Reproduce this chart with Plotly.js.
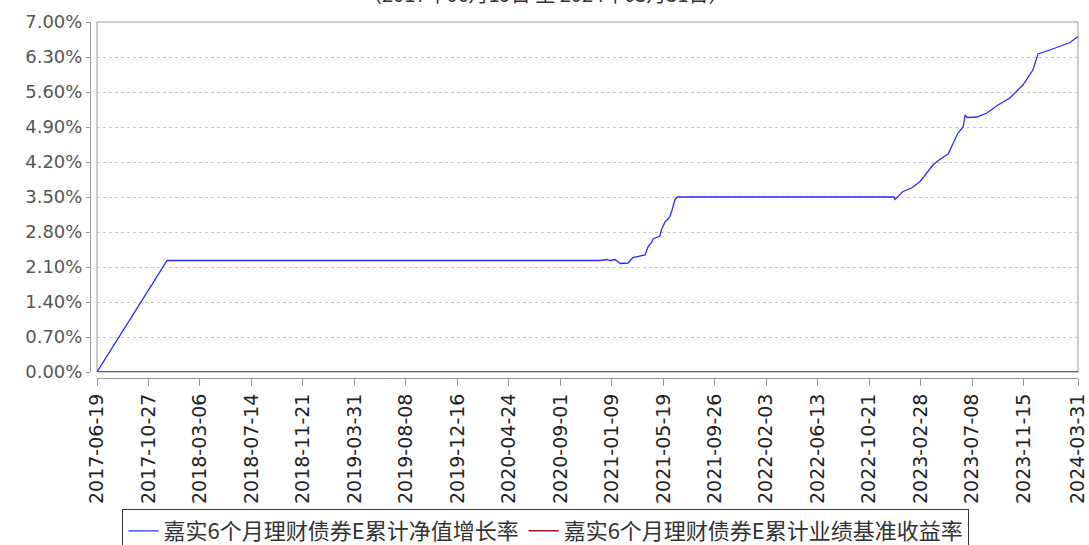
<!DOCTYPE html>
<html>
<head>
<meta charset="utf-8">
<script src="https://cdn.plot.ly/plotly-3.0.1.min.js"></script>
<style>
html,body{margin:0;padding:0;background:#fff;}
#chart{width:1089px;height:545px;}
</style>
</head>
<body>
<div id="chart"></div>
<script>
const titleText = '（2017年06月19日 至 2024年03月31日）';
const seriesNames = ['嘉实6个月理财债券E累计净值增长率', '嘉实6个月理财债券E累计业绩基准收益率'];

const navDates = [
  '2017-06-19','2017-12-13','2020-12-10','2020-12-28','2021-01-04','2021-01-17','2021-01-30','2021-02-19',
  '2021-03-03','2021-04-03','2021-04-10','2021-04-20','2021-04-23','2021-05-10','2021-05-15','2021-05-23',
  '2021-05-28','2021-06-04','2021-06-10','2021-06-17','2021-06-23','2022-12-22','2022-12-25','2023-01-14',
  '2023-02-05','2023-02-26','2023-03-31','2023-04-15','2023-05-08','2023-06-02','2023-06-15','2023-06-20',
  '2023-06-25','2023-07-20','2023-08-14','2023-09-11','2023-10-11','2023-11-13','2023-12-08','2023-12-21',
  '2024-01-20','2024-03-11','2024-03-31'
];
const navValues = [
  0.00, 2.23, 2.23, 2.25, 2.23, 2.25, 2.17, 2.18,
  2.29, 2.34, 2.50, 2.60, 2.66, 2.72, 2.86, 3.00,
  3.04, 3.10, 3.24, 3.44, 3.50, 3.50, 3.45, 3.61,
  3.68, 3.81, 4.14, 4.24, 4.36, 4.78, 4.90, 5.14,
  5.09, 5.10, 5.18, 5.34, 5.48, 5.74, 6.04, 6.36,
  6.44, 6.59, 6.71
];

const benchDates = ['2017-06-19', '2024-03-31'];
const benchValues = [0, 0];

const xTickLabels = [
  '2017-06-19','2017-10-27','2018-03-06','2018-07-14','2018-11-21','2019-03-31','2019-08-08',
  '2019-12-16','2020-04-24','2020-09-01','2021-01-09','2021-05-19','2021-09-26','2022-02-03',
  '2022-06-13','2022-10-21','2023-02-28','2023-07-08','2023-11-15','2024-03-31'
];
const yTickValues = [0, 0.7, 1.4, 2.1, 2.8, 3.5, 4.2, 4.9, 5.6, 6.3, 7.0];

const traces = [
  {
    x: navDates, y: navValues, name: seriesNames[0], type: 'scatter', mode: 'lines',
    line: {color: '#2a2aff', width: 1.3}
  },
  {
    x: benchDates, y: benchValues, name: seriesNames[1], type: 'scatter', mode: 'lines',
    line: {color: '#a31515', width: 1.5}
  }
];

const layout = {
  width: 1089, height: 545,
  margin: {l: 90, r: 11, t: 22, b: 167, pad: 0, autoexpand: false},
  paper_bgcolor: '#ffffff', plot_bgcolor: '#ffffff',
  showlegend: true,
  font: {family: 'DejaVu Sans', color: '#333'},
  xaxis: {
    type: 'date',
    domain: [7/988, 1],
    anchor: 'free', position: 0,
    automargin: false,
    range: [xTickLabels[0], xTickLabels[xTickLabels.length - 1]],
    tickmode: 'array', tickvals: xTickLabels, ticktext: xTickLabels,
    tickangle: -90,
    tickfont: {family: 'DejaVu Sans', size: 19, color: '#222'},
    ticks: 'outside', ticklen: 7, tickcolor: '#999', tickwidth: 1,
    showline: true, linecolor: '#999', linewidth: 1,
    showgrid: false, zeroline: false, fixedrange: true
  },
  yaxis: {
    domain: [6/356, 1],
    anchor: 'free', position: 0,
    automargin: false,
    range: [0, 7],
    tickmode: 'array', tickvals: yTickValues,
    ticktext: yTickValues.map(v => v.toFixed(2) + '%'),
    tickfont: {family: 'DejaVu Sans', size: 18, color: '#555'},
    ticks: 'outside', ticklen: 4, tickcolor: '#999', tickwidth: 1,
    showline: true, linecolor: '#999', linewidth: 1,
    showgrid: true, gridcolor: '#c8c8c8', griddash: '3px,3px', gridwidth: 1,
    zeroline: false, fixedrange: true
  },
  shapes: [
    {type: 'rect', xref: 'x domain', yref: 'y domain', x0: 0, x1: 1, y0: 0, y1: 1,
     line: {color: '#999', width: 1}, fillcolor: 'rgba(0,0,0,0)', layer: 'below'}
  ],
  annotations: [
    {text: titleText, xref: 'paper', yref: 'paper', x: 0.4615, y: 1.035,
     xanchor: 'center', yanchor: 'bottom', showarrow: false,
     font: {family: 'Noto Sans CJK SC', size: 20, color: '#333'}}
  ],
  legend: {
    orientation: 'h', x: 0.4615, xanchor: 'center',
    yref: 'container', y: 1 - 509/545, yanchor: 'top',
    bordercolor: '#333', borderwidth: 1, bgcolor: '#fff',
    font: {family: 'Noto Sans CJK SC', size: 22, color: '#333'},
    itemwidth: 30, tracegroupgap: 0
  }
};

Plotly.newPlot('chart', traces, layout, {displayModeBar: false, staticPlot: true});
</script>
</body>
</html>
